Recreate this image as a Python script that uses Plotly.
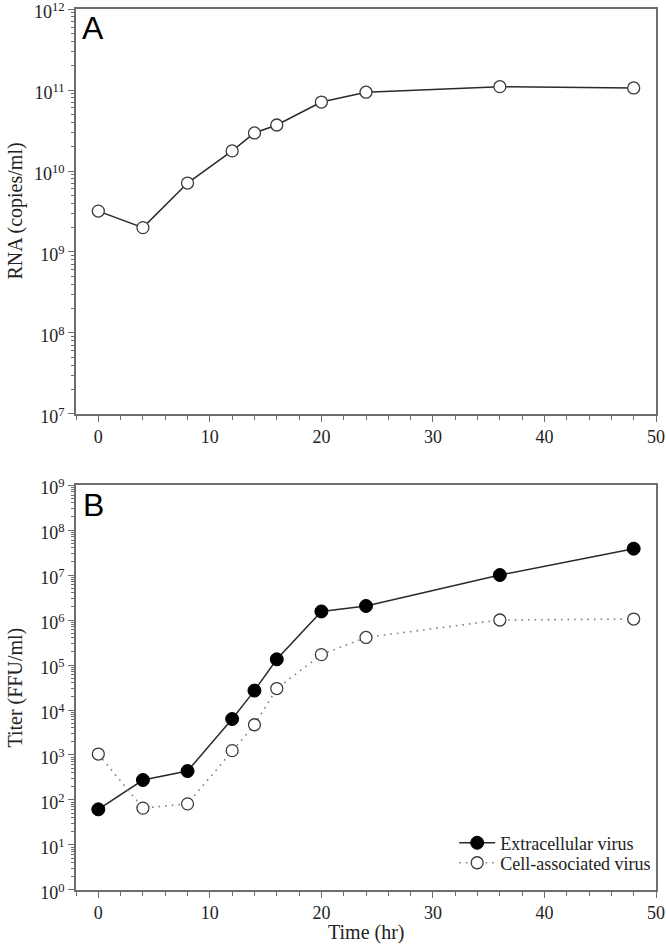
import plotly.graph_objects as go
from plotly.subplots import make_subplots

# Data
time_rna = [0, 4, 8, 12, 14, 16, 20, 24, 36, 48]
rna_copies = [3.2e9, 2.0e9, 7.1e9, 1.77e10, 2.95e10, 3.7e10, 7.1e10, 9.4e10, 1.1e11, 1.06e11]

time_titer = [0, 4, 8, 12, 14, 16, 20, 24, 36, 48]
extracellular = [62, 278, 440, 6300, 27000, 1.34e5, 1.55e6, 2.05e6, 1.0e7, 3.85e7]
cell_associated = [1050, 66, 82, 1250, 4700, 30000, 1.7e5, 4.1e5, 1.0e6, 1.05e6]

x_ticks = [0, 10, 20, 30, 40, 50]
top_decades = list(range(7, 13))
bottom_decades = list(range(0, 10))

SERIF = "Liberation Serif"
AXIS_COLOR = "#6e6e6e"
LINE_COLOR = "#2a2a2a"
TEXT_COLOR = "#222222"

fig = make_subplots(rows=2, cols=1, vertical_spacing=0.0806)

fig.add_trace(go.Scatter(
    x=time_rna, y=rna_copies, mode="lines+markers",
    line=dict(color=LINE_COLOR, width=1.5),
    marker=dict(symbol="circle", size=12, color="white",
                line=dict(color="#3a3a3a", width=1.3)),
    showlegend=False), row=1, col=1)

fig.add_trace(go.Scatter(
    x=time_titer, y=extracellular, mode="lines+markers",
    name="Extracellular virus", legend="legend",
    line=dict(color=LINE_COLOR, width=1.5),
    marker=dict(symbol="circle", size=13, color="black",
                line=dict(color="black", width=1))), row=2, col=1)

fig.add_trace(go.Scatter(
    x=time_titer, y=cell_associated, mode="lines+markers",
    name="Cell-associated virus", legend="legend2",
    line=dict(color="#808080", width=1.6, dash="1.6px,5px"),
    marker=dict(symbol="circle", size=12, color="white",
                line=dict(color="#3a3a3a", width=1.3))), row=2, col=1)

xaxis_common = dict(
    range=[-2, 50], showgrid=False, zeroline=False, automargin=False,
    showline=True, linecolor=AXIS_COLOR, linewidth=1.5, mirror=True,
    ticks="outside", ticklen=6, tickwidth=1.2, tickcolor=AXIS_COLOR,
    tickmode="array", tickvals=x_ticks, ticklabeloverflow="allow",
    minor=dict(dtick=2, tick0=0, ticks="outside", ticklen=4,
               tickwidth=1, tickcolor=AXIS_COLOR),
    tickfont=dict(family=SERIF, size=18, color=TEXT_COLOR),
)

fig.update_xaxes(**xaxis_common, row=1, col=1)
fig.update_xaxes(**xaxis_common, row=2, col=1)

def yaxis_common(decs):
    return dict(
        type="log", range=[decs[0] - 0.0005, decs[-1] + 0.0005],
        showgrid=False, zeroline=False, automargin=False,
        showline=True, linecolor=AXIS_COLOR, linewidth=1.5, mirror=True,
        ticks="outside", ticklen=6, tickwidth=1.2, tickcolor=AXIS_COLOR,
        tickmode="array", ticklabeloverflow="allow", ticklabelshift=3,
        tickvals=[10 ** d for d in decs],
        ticktext=["10<sup>%d</sup>" % d for d in decs],
        minor=dict(dtick="D1", ticks="outside", ticklen=3,
                   tickwidth=1, tickcolor=AXIS_COLOR),
        tickfont=dict(family=SERIF, size=18, color=TEXT_COLOR),
    )

fig.update_yaxes(**yaxis_common(top_decades), row=1, col=1)
fig.update_yaxes(**yaxis_common(bottom_decades), row=2, col=1)

# Axis titles
fig.add_annotation(text="RNA (copies/ml)", xref="paper", yref="y domain", x=-0.105, y=0.5,
                   textangle=-90, showarrow=False, xanchor="center", yanchor="middle",
                   font=dict(family=SERIF, size=20, color=TEXT_COLOR))
fig.add_annotation(text="Titer (FFU/ml)", xref="paper", yref="y2 domain", x=-0.105, y=0.5,
                   textangle=-90, showarrow=False, xanchor="center", yanchor="middle",
                   font=dict(family=SERIF, size=20, color=TEXT_COLOR))
fig.add_annotation(text="Time (hr)", xref="x2 domain", yref="paper", x=0.5, y=-0.0488,
                   showarrow=False, xanchor="center", yanchor="middle",
                   font=dict(family=SERIF, size=20, color=TEXT_COLOR))

# Panel letters
fig.add_annotation(text="A", xref="x domain", yref="y domain", x=0.030, y=0.953,
                   xanchor="center", yanchor="middle", showarrow=False,
                   font=dict(family="Liberation Sans", size=32, color="black"))
fig.add_annotation(text="B", xref="x2 domain", yref="y2 domain", x=0.030, y=0.951,
                   xanchor="center", yanchor="middle", showarrow=False,
                   font=dict(family="Liberation Sans", size=32, color="black"))

legend_common = dict(xanchor="left", yanchor="middle", bgcolor="rgba(0,0,0,0)",
                     font=dict(family=SERIF, size=18, color=TEXT_COLOR),
                     itemwidth=36, borderwidth=0)

fig.update_layout(
    width=666, height=947,
    margin=dict(l=76, r=10, t=9, b=57, autoexpand=False),
    plot_bgcolor="white", paper_bgcolor="white",
    legend=dict(x=0.652, y=0.0533, **legend_common),
    legend2=dict(x=0.652, y=0.0306, **legend_common),
)

fig.write_html("out.html", config={"displayModeBar": False},
               post_script="document.body.style.margin='0';document.body.style.overflow='hidden';")
